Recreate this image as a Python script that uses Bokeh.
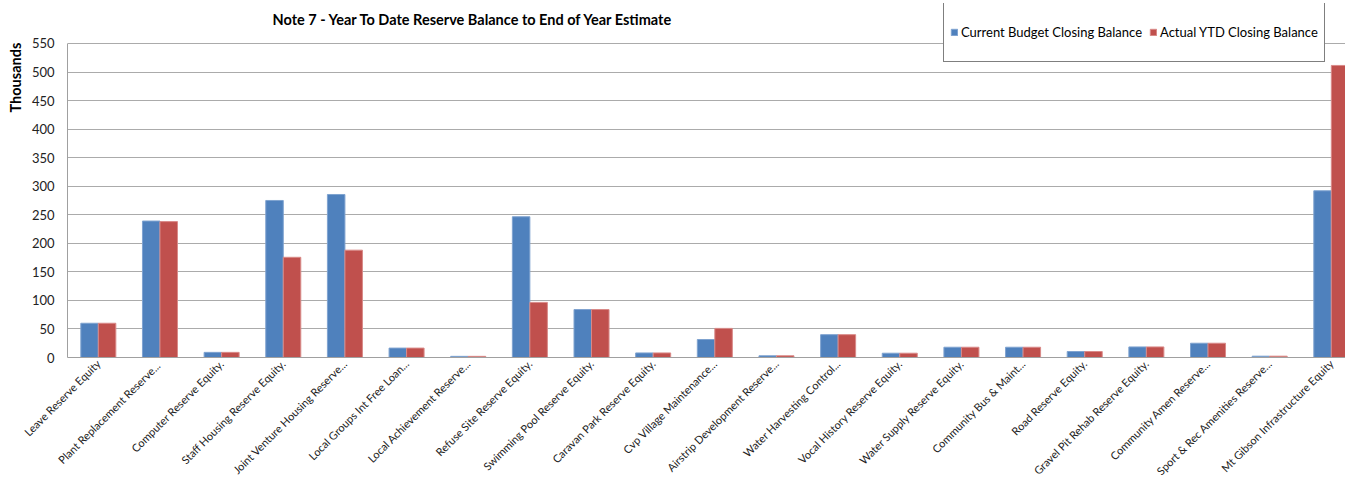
import numpy as np
from math import pi
from bokeh.plotting import figure
from bokeh.models import Range1d, FixedTicker, Title, Legend, LegendItem, ColumnDataSource, Label
from bokeh.embed import file_html
from bokeh.resources import INLINE

categories = [
    "Leave Reserve Equity",
    "Plant Replacement  Reserve...",
    "Computer Reserve Equity.",
    "Staff Housing Reserve Equity.",
    "Joint Venture Housing Reserve...",
    "Local Groups Int Free Loan...",
    "Local Achievement Reserve...",
    "Refuse Site Reserve Equity.",
    "Swimming Pool Reserve Equity.",
    "Caravan Park Reserve Equity.",
    "Cvp Village Maintenance...",
    "Airstrip Development Reserve...",
    "Water Harvesting Control...",
    "Vocal History Reserve Equity.",
    "Water Supply Reserve Equity.",
    "Community Bus & Maint...",
    "Road Reserve Equity.",
    "Gravel Pit Rehab Reserve Equity.",
    "Community Amen Reserve...",
    "Sport & Rec Amenities Reserve...",
    "Mt Gibson Infrastructure Equity",
]
budget = [60, 239, 9, 275, 285.5, 16.5, 2, 246.5, 84, 8, 31.5, 3, 40, 7.5, 18, 18, 10.5, 18.5, 25, 2.3, 292]
actual = [60, 238, 9, 175.5, 188, 16.5, 2, 96.5, 84, 8, 51, 3, 40, 7.5, 18, 18, 10.5, 18.5, 25, 2.3, 511.5]
y_ticks = list(range(0, 551, 50))

title_text = "Note 7 - Year To Date Reserve Balance to End of Year Estimate"
y_label = "Thousands"
series_names = ["Current Budget Closing Balance", "Actual YTD Closing Balance"]
series_colors = ["#4F81BD", "#C0504D"]
series_edges = ["#7FA3D0", "#D98A88"]

FONT = "Lato"
idx = np.arange(1, len(categories) + 1)
bw = 0.284

p = figure(width=1345, height=484, output_backend="svg", toolbar_location=None,
           title=None,
           x_range=Range1d(0.5, 21.23), y_range=Range1d(0, 620),
           min_border_left=67, min_border_right=0, min_border_top=3, min_border_bottom=127)
p.outline_line_color = None
p.background_fill_color = "white"
p.border_fill_color = "white"

src_b = ColumnDataSource(dict(x=idx - bw / 2, top=budget))
src_a = ColumnDataSource(dict(x=idx + bw / 2, top=actual))
r1 = p.vbar(x="x", top="top", width=bw, source=src_b, fill_color=series_colors[0],
            line_color=series_edges[0], line_width=1)
r2 = p.vbar(x="x", top="top", width=bw, source=src_a, fill_color=series_colors[1],
            line_color=series_edges[1], line_width=1)

# axes
p.yaxis.ticker = FixedTicker(ticks=y_ticks)
p.yaxis.bounds = (0, 550)
p.yaxis.major_tick_line_color = None
p.yaxis.minor_tick_line_color = None
p.yaxis.major_tick_out = 0
p.yaxis.major_label_standoff = 13
p.yaxis.axis_line_color = "#A0A0A0"
p.yaxis.major_label_text_font = FONT
p.yaxis.major_label_text_font_size = "13px"
p.yaxis.major_label_text_color = "#222222"

p.xaxis.ticker = FixedTicker(ticks=idx.tolist())
p.xaxis.major_label_overrides = {int(i): c for i, c in zip(idx, categories)}
p.xaxis.major_label_orientation = pi / 4
p.xaxis.major_tick_line_color = None
p.xaxis.minor_tick_line_color = None
p.xaxis.major_tick_out = 0
p.xaxis.major_label_standoff = 4
p.xaxis.axis_line_color = "#A0A0A0"
p.xaxis.major_label_text_font = FONT
p.xaxis.major_label_text_font_size = "11px"
p.xaxis.major_label_text_color = "#222222"

p.xgrid.visible = False
p.ygrid.ticker = FixedTicker(ticks=y_ticks)
p.ygrid.grid_line_color = "#ABABAB"

# chart title (drawn inside the frame, above the 550 gridline)
p.add_layout(Label(x=205, y=338, x_units="screen", y_units="screen", text=title_text,
                   text_font=FONT, text_font_style="bold", text_font_size="14.5px",
                   text_color="black", text_baseline="middle", text_align="left"))

ylab = Title(text=y_label, align="left", offset=245, text_font=FONT, text_font_style="bold",
             text_font_size="14.5px", text_color="black", standoff=9)
p.add_layout(ylab, "left")

legend = Legend(items=[LegendItem(label=series_names[0], renderers=[r1]),
                       LegendItem(label=series_names[1], renderers=[r2])],
                location=(876, 295), orientation="horizontal",
                glyph_width=8, glyph_height=8, label_standoff=3, spacing=7,
                padding=6, label_height=46, margin=0,
                label_text_font=FONT, label_text_font_size="13px",
                label_text_color="black",
                border_line_color="black", border_line_width=1,
                background_fill_color="white", background_fill_alpha=1)
p.add_layout(legend)

open("out.html", "w").write(file_html(p, INLINE))
